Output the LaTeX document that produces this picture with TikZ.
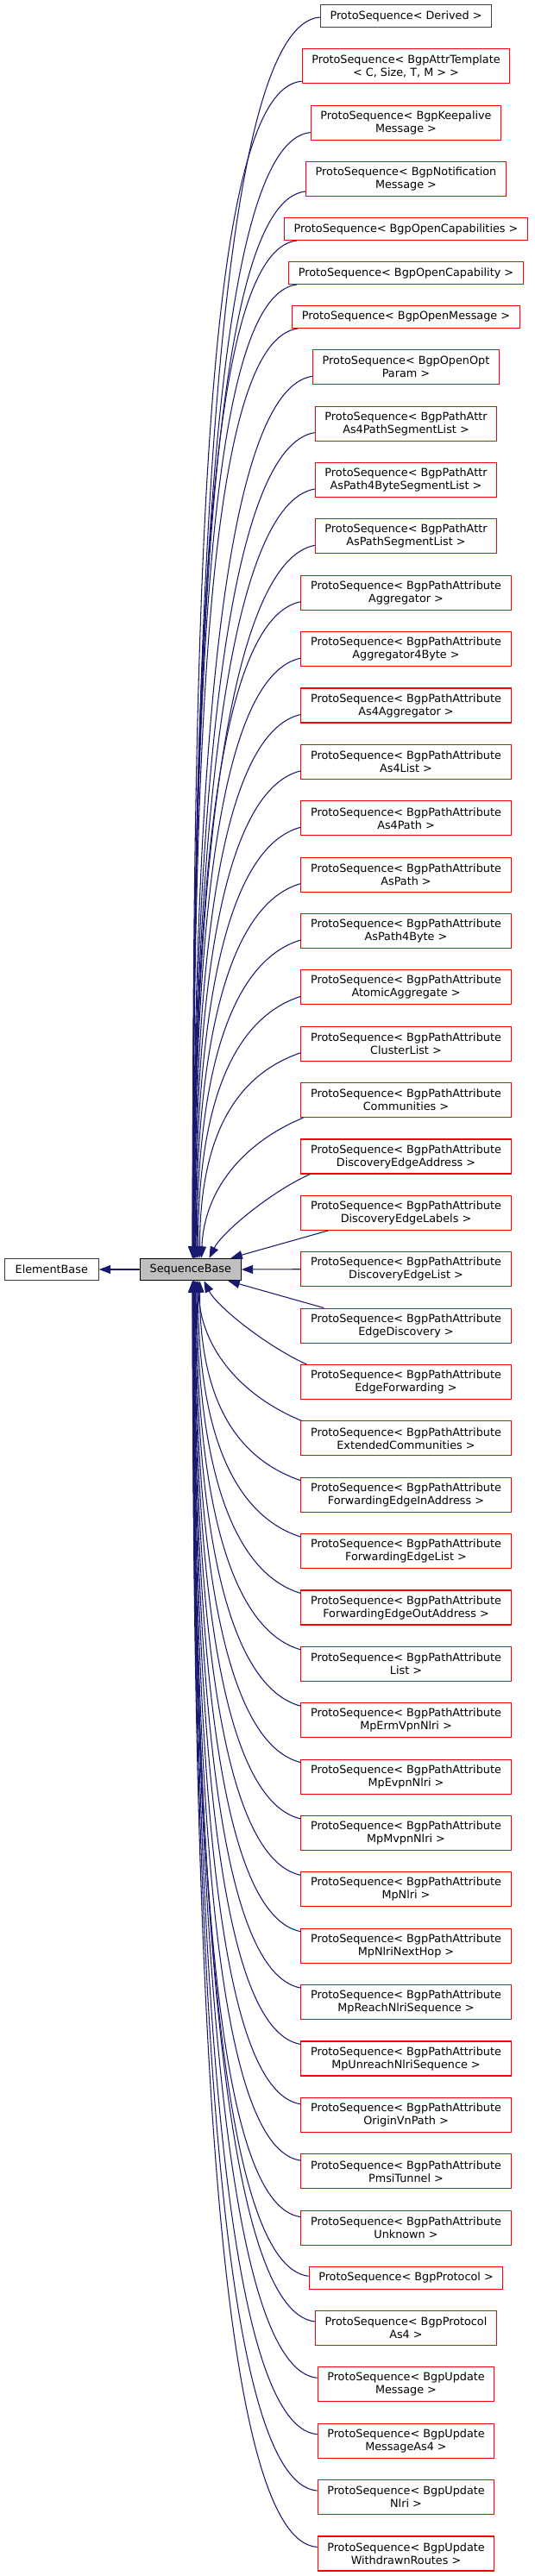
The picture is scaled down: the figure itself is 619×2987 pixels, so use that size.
\documentclass[tikz,border=0pt]{standalone}
\usepackage{fontspec}
\setmainfont{DejaVu Sans}
\usetikzlibrary{arrows.meta,calc}
\definecolor{edgeblue}{HTML}{191970}
\definecolor{boxgrey}{HTML}{404040}
\definecolor{sbfill}{HTML}{BFBFBF}
\newcommand\upedge[3]{%
  \pgfmathsetmacro\edA{min(115,70+0.03*#3)}%
  \pgfmathsetmacro\edB{max(6,30-0.015*#3)}%
  \pgfmathsetmacro\edC{0.58*#3}%
  \draw[edge] #1 .. controls +(-\edA,\edB) and +(0,-\edC) .. ($(sb.north west)+(#2,0)$);}
\newcommand\downedge[3]{%
  \pgfmathsetmacro\edA{min(115,70+0.03*#3)}%
  \pgfmathsetmacro\edB{max(6,30-0.015*#3)}%
  \pgfmathsetmacro\edC{0.58*#3}%
  \draw[edge] #1 .. controls +(-\edA,-\edB) and +(0,\edC) .. ($(sb.south west)+(#2,0)$);}
\begin{document}
\begin{tikzpicture}[x=0.75pt,y=-0.75pt,
  box/.style={draw, rectangle, line width=0.8pt, fill=white, inner xsep=8.4pt, inner ysep=0pt,
    align=center, font=\fontsize{9.6}{11.25}\selectfont, text=black},
  boxone/.style={box, minimum height=19.2pt},
  boxtwo/.style={box, minimum height=30pt},
  redb/.style={draw=red},
  greyb/.style={draw=boxgrey},
  edge/.style={draw=edgeblue, line width=0.8pt, -{Triangle[length=10pt,width=7.5pt]}, fill=none},
]
\useasboundingbox (0,0) rectangle (619,2987);
\fill[white] (0,0) rectangle (619,2987);

% left nodes
\node[box, greyb, minimum width=81.75pt, minimum height=19.05pt, inner xsep=0pt] (eb) at (59.8,1472) {ElementBase};
\node[box, draw=black, fill=sbfill, minimum width=87.75pt, minimum height=19.05pt, inner xsep=0pt] (sb) at (220.8,1472) {SequenceBase};

% right nodes
\node[boxone, greyb] (n1) at (470.5,18.5) {ProtoSequence< Derived >};
\node[boxtwo, redb] (n2) at (470.5,76.675) {ProtoSequence< BgpAttrTemplate\\< C, Size, T, M > >};
\node[boxtwo, redb] (n3) at (470.5,142.05) {ProtoSequence< BgpKeepalive\\Message >};
\node[boxtwo, redb] (n4) at (470.5,207.425) {ProtoSequence< BgpNotification\\Message >};
\node[boxone, redb] (n5) at (470.5,265.6) {ProtoSequence< BgpOpenCapabilities >};
\node[boxone, redb] (n6) at (470.5,316.575) {ProtoSequence< BgpOpenCapability >};
\node[boxone, redb] (n7) at (470.5,367.55) {ProtoSequence< BgpOpenMessage >};
\node[boxtwo, redb] (n8) at (470.5,425.725) {ProtoSequence< BgpOpenOpt\\Param >};
\node[boxtwo, redb] (n9) at (470.5,491.1) {ProtoSequence< BgpPathAttr\\As4PathSegmentList >};
\node[boxtwo, redb] (n10) at (470.5,556.475) {ProtoSequence< BgpPathAttr\\AsPath4ByteSegmentList >};
\node[boxtwo, redb] (n11) at (470.5,621.85) {ProtoSequence< BgpPathAttr\\AsPathSegmentList >};
\node[boxtwo, redb] (n12) at (470.5,687.225) {ProtoSequence< BgpPathAttribute\\Aggregator >};
\node[boxtwo, redb] (n13) at (470.5,752.6) {ProtoSequence< BgpPathAttribute\\Aggregator4Byte >};
\node[boxtwo, redb] (n14) at (470.5,817.975) {ProtoSequence< BgpPathAttribute\\As4Aggregator >};
\node[boxtwo, redb] (n15) at (470.5,883.35) {ProtoSequence< BgpPathAttribute\\As4List >};
\node[boxtwo, redb] (n16) at (470.5,948.725) {ProtoSequence< BgpPathAttribute\\As4Path >};
\node[boxtwo, redb] (n17) at (470.5,1014.1) {ProtoSequence< BgpPathAttribute\\AsPath >};
\node[boxtwo, redb] (n18) at (470.5,1079.475) {ProtoSequence< BgpPathAttribute\\AsPath4Byte >};
\node[boxtwo, redb] (n19) at (470.5,1144.85) {ProtoSequence< BgpPathAttribute\\AtomicAggregate >};
\node[boxtwo, redb] (n20) at (470.5,1210.225) {ProtoSequence< BgpPathAttribute\\ClusterList >};
\node[boxtwo, redb] (n21) at (470.5,1275.6) {ProtoSequence< BgpPathAttribute\\Communities >};
\node[boxtwo, redb] (n22) at (470.5,1340.975) {ProtoSequence< BgpPathAttribute\\DiscoveryEdgeAddress >};
\node[boxtwo, redb] (n23) at (470.5,1406.35) {ProtoSequence< BgpPathAttribute\\DiscoveryEdgeLabels >};
\node[boxtwo, redb] (n24) at (470.5,1471.725) {ProtoSequence< BgpPathAttribute\\DiscoveryEdgeList >};
\node[boxtwo, redb] (n25) at (470.5,1537.1) {ProtoSequence< BgpPathAttribute\\EdgeDiscovery >};
\node[boxtwo, redb] (n26) at (470.5,1602.475) {ProtoSequence< BgpPathAttribute\\EdgeForwarding >};
\node[boxtwo, redb] (n27) at (470.5,1667.85) {ProtoSequence< BgpPathAttribute\\ExtendedCommunities >};
\node[boxtwo, redb] (n28) at (470.5,1733.225) {ProtoSequence< BgpPathAttribute\\ForwardingEdgeInAddress >};
\node[boxtwo, redb] (n29) at (470.5,1798.6) {ProtoSequence< BgpPathAttribute\\ForwardingEdgeList >};
\node[boxtwo, redb] (n30) at (470.5,1863.975) {ProtoSequence< BgpPathAttribute\\ForwardingEdgeOutAddress >};
\node[boxtwo, redb] (n31) at (470.5,1929.35) {ProtoSequence< BgpPathAttribute\\List >};
\node[boxtwo, redb] (n32) at (470.5,1994.725) {ProtoSequence< BgpPathAttribute\\MpErmVpnNlri >};
\node[boxtwo, redb] (n33) at (470.5,2060.1) {ProtoSequence< BgpPathAttribute\\MpEvpnNlri >};
\node[boxtwo, redb] (n34) at (470.5,2125.475) {ProtoSequence< BgpPathAttribute\\MpMvpnNlri >};
\node[boxtwo, redb] (n35) at (470.5,2190.85) {ProtoSequence< BgpPathAttribute\\MpNlri >};
\node[boxtwo, redb] (n36) at (470.5,2256.225) {ProtoSequence< BgpPathAttribute\\MpNlriNextHop >};
\node[boxtwo, redb] (n37) at (470.5,2321.6) {ProtoSequence< BgpPathAttribute\\MpReachNlriSequence >};
\node[boxtwo, redb] (n38) at (470.5,2386.975) {ProtoSequence< BgpPathAttribute\\MpUnreachNlriSequence >};
\node[boxtwo, redb] (n39) at (470.5,2452.35) {ProtoSequence< BgpPathAttribute\\OriginVnPath >};
\node[boxtwo, redb] (n40) at (470.5,2517.725) {ProtoSequence< BgpPathAttribute\\PmsiTunnel >};
\node[boxtwo, redb] (n41) at (470.5,2583.1) {ProtoSequence< BgpPathAttribute\\Unknown >};
\node[boxone, redb] (n42) at (470.5,2641.275) {ProtoSequence< BgpProtocol >};
\node[boxtwo, redb] (n43) at (470.5,2699.45) {ProtoSequence< BgpProtocol\\As4 >};
\node[boxtwo, redb] (n44) at (470.5,2764.825) {ProtoSequence< BgpUpdate\\Message >};
\node[boxtwo, redb] (n45) at (470.5,2830.2) {ProtoSequence< BgpUpdate\\MessageAs4 >};
\node[boxtwo, redb] (n46) at (470.5,2895.575) {ProtoSequence< BgpUpdate\\Nlri >};
\node[boxtwo, redb] (n47) at (470.5,2960.95) {ProtoSequence< BgpUpdate\\WithdrawnRoutes >};

% edges
\draw[edge] (sb.west) -- (eb.east);
\draw[edge] (n24.west) -- (sb.east);

\upedge{($(n1.west)+(0,1.5)$)}{61.4}{1439.3}
\upedge{($(n2.south west)+(0,-3)$)}{61.5}{1365.6}
\upedge{($(n3.south west)+(0,-9)$)}{61.6}{1306}
\upedge{($(n4.south west)+(0,-6)$)}{61.7}{1238}
\upedge{($(n5.south west)+(15,0)$)}{61.8}{1181}
\upedge{($(n6.south west)+(10,0)$)}{61.9}{1130}
\upedge{($(n7.south west)+(7,0)$)}{62.05}{1079}
\upedge{($(n8.south west)+(0,-10)$)}{62.2}{1023.6}
\upedge{($(n9.south west)+(0,-10)$)}{62.4}{958.2}
\upedge{($(n10.south west)+(0,-10)$)}{62.6}{892.8}
\upedge{($(n11.south west)+(0,-10)$)}{62.8}{827.5}
\upedge{($(n12.south west)+(0,-10)$)}{63}{762.1}
\upedge{($(n13.south west)+(0,-10)$)}{63.3}{696.7}
\upedge{($(n14.south west)+(0,-10)$)}{63.7}{631.3}
\upedge{($(n15.south west)+(0,-10)$)}{64.1}{566}
\upedge{($(n16.south west)+(0,-10)$)}{64.7}{500.6}
\upedge{($(n17.south west)+(0,-10)$)}{65.4}{435.2}
\upedge{($(n18.south west)+(0,-10)$)}{66.4}{369.8}
\upedge{($(n19.south west)+(0,-10)$)}{67.7}{304.5}
\upedge{($(n20.south west)+(0,-10)$)}{69.7}{239.1}
\draw[edge] ($(n21.south west)+(3,0)$) .. controls +(-68,28) and +(3,-80) .. ($(sb.north west)+(71.7,0)$);
\draw[edge] ($(n22.south west)+(11,0)$) .. controls +(-45,20) and +(15,-30) .. ($(sb.north west)+(80.7,0)$);
\draw[edge] ($(n23.south west)+(32,0)$) -- ($(sb.north west)+(105.7,0)$);

\draw[edge] ($(n25.north west)+(27,0)$) -- ($(sb.south west)+(102.7,0)$);
\draw[edge] ($(n26.north west)+(7,0)$) .. controls +(-45,-20) and +(15,30) .. ($(sb.south west)+(74.7,0)$);
\draw[edge] ($(n27.north west)+(1,0)$) .. controls +(-68,-28) and +(3,80) .. ($(sb.south west)+(67.7,0)$);
\downedge{($(n28.north west)+(0,4)$)}{69.7}{232.5}
\downedge{($(n29.north west)+(0,4)$)}{67.7}{297.9}
\downedge{($(n30.north west)+(0,4)$)}{66.4}{363.3}
\downedge{($(n31.north west)+(0,4)$)}{65.4}{428.65}
\downedge{($(n32.north west)+(0,4)$)}{64.7}{494}
\downedge{($(n33.north west)+(0,4)$)}{64.1}{559.4}
\downedge{($(n34.north west)+(0,4)$)}{63.7}{624.8}
\downedge{($(n35.north west)+(0,4)$)}{63.3}{690.15}
\downedge{($(n36.north west)+(0,4)$)}{63}{755.5}
\downedge{($(n37.north west)+(0,4)$)}{62.8}{820.9}
\downedge{($(n38.north west)+(0,4)$)}{62.6}{886.3}
\downedge{($(n39.north west)+(0,8)$)}{62.4}{955.65}
\downedge{($(n40.north west)+(0,8)$)}{62.2}{1021}
\downedge{($(n41.north west)+(0,8)$)}{62.05}{1086.4}
\downedge{($(n42.west)+(0,-2)$)}{61.9}{1154.6}
\downedge{($(n43.north west)+(0,13)$)}{61.8}{1207.75}
\downedge{($(n44.north west)+(0,13)$)}{61.7}{1273.1}
\downedge{($(n45.north west)+(0,13)$)}{61.6}{1338.5}
\downedge{($(n46.north west)+(0,13)$)}{61.5}{1403.9}
\downedge{($(n47.north west)+(0,13)$)}{61.4}{1469.25}
\end{tikzpicture}
\end{document}
